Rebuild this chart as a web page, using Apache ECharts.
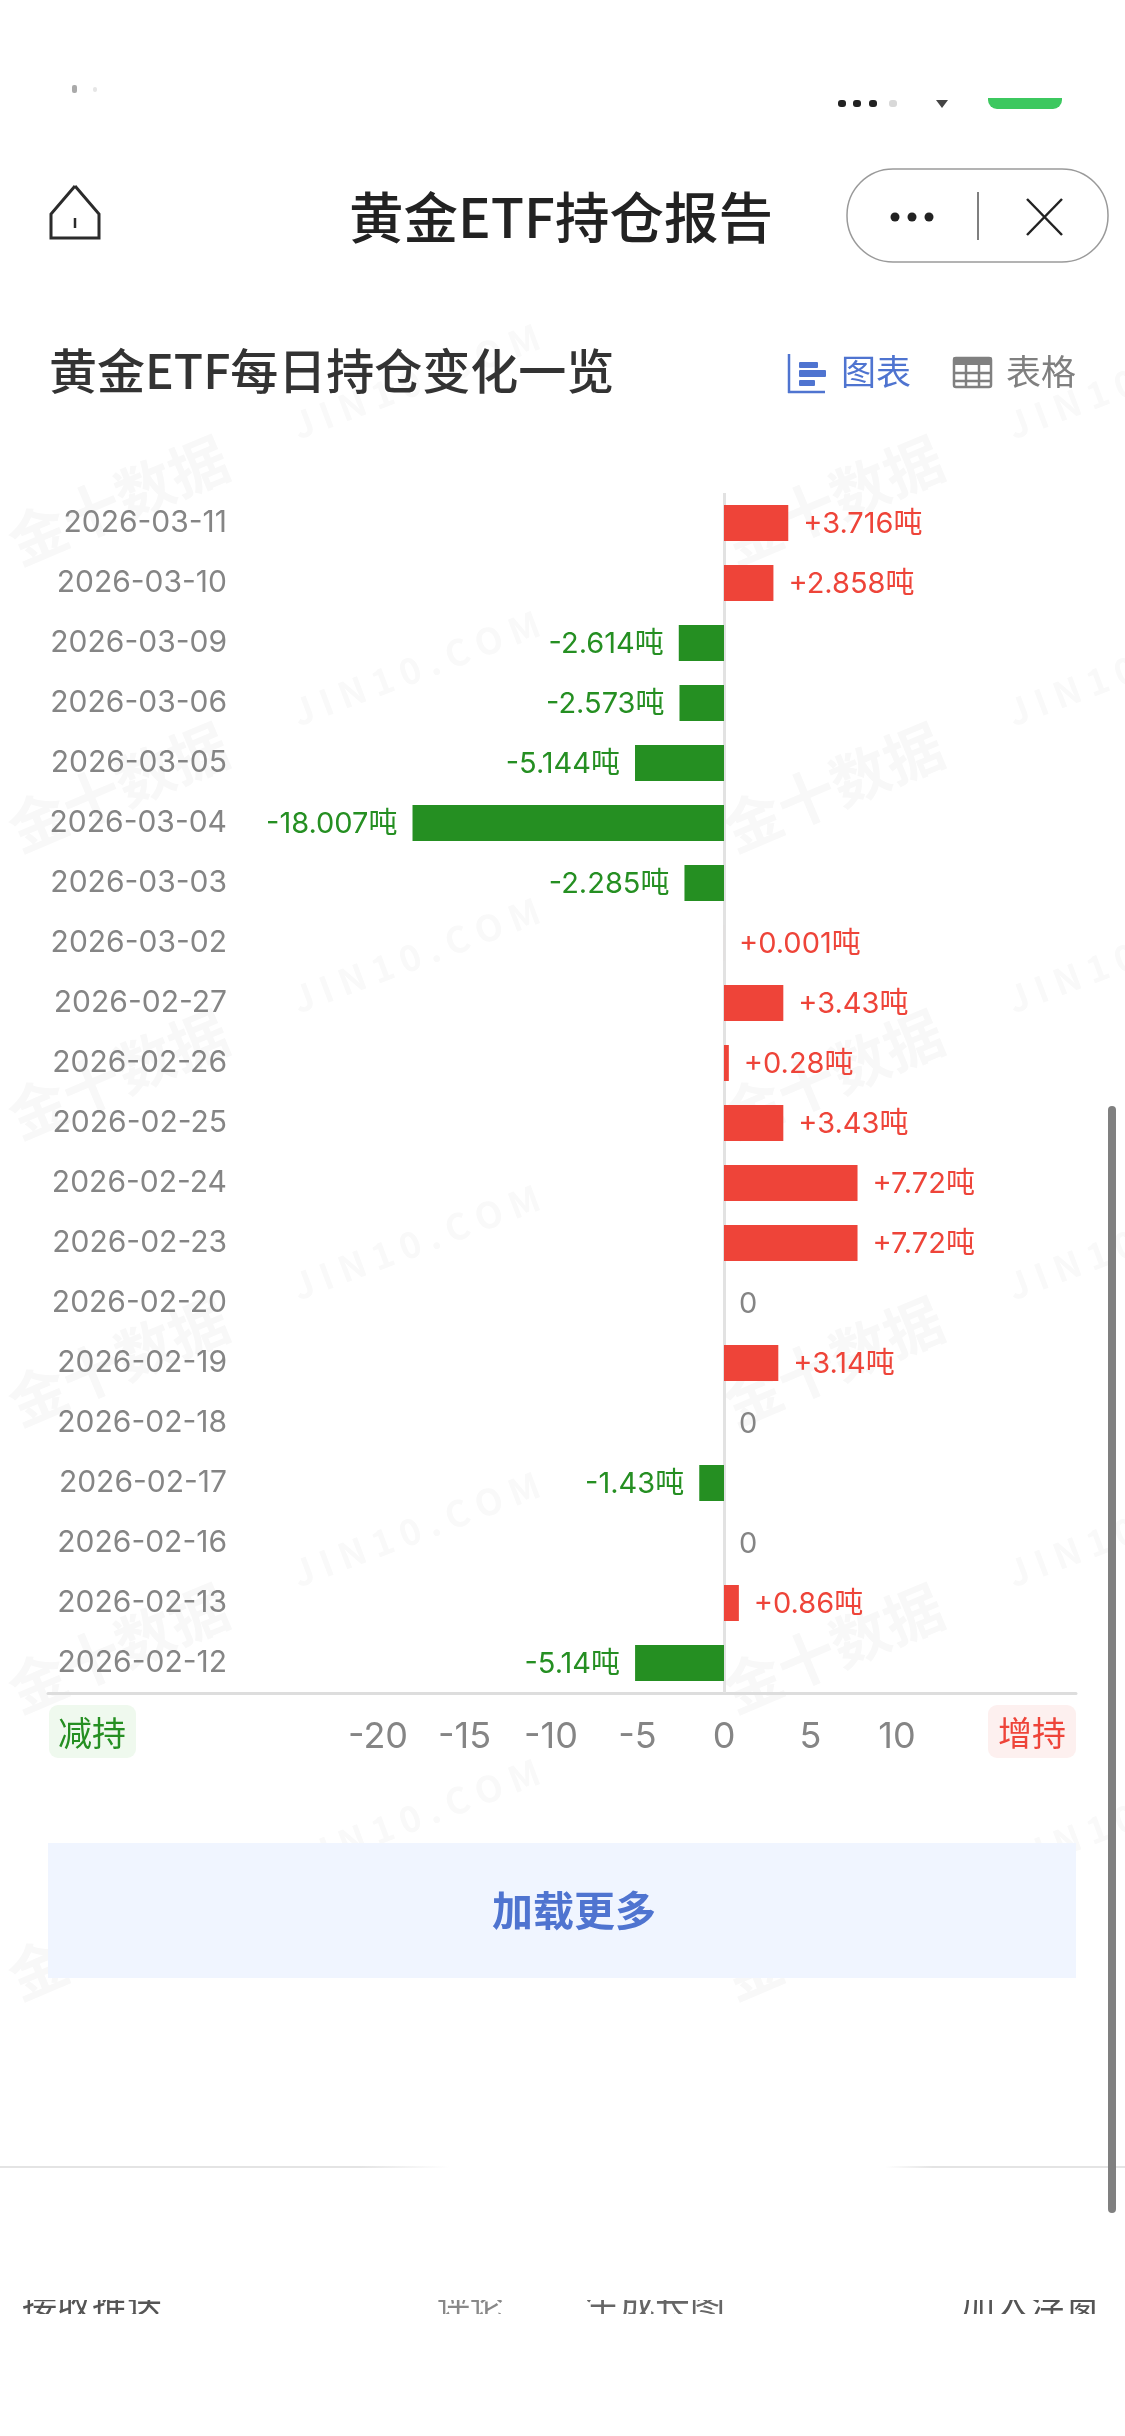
<!DOCTYPE html>
<html><head><meta charset="utf-8">
<style>html,body{margin:0;padding:0;background:#fff}#c{width:1125px;height:2436px}</style>
<script src="https://cdn.jsdelivr.net/npm/echarts@6/dist/echarts.min.js"></script>
</head><body><div id="c"></div>
<script>
const categories = ['2026-03-11','2026-03-10','2026-03-09','2026-03-06','2026-03-05','2026-03-04','2026-03-03','2026-03-02','2026-02-27','2026-02-26','2026-02-25','2026-02-24','2026-02-23','2026-02-20','2026-02-19','2026-02-18','2026-02-17','2026-02-16','2026-02-13','2026-02-12'];
const values = [3.716,2.858,-2.614,-2.573,-5.144,-18.007,-2.285,0.001,3.43,0.28,3.43,7.72,7.72,0,3.14,0,-1.43,0,0.86,-5.14];
const xTicks = [-20,-15,-10,-5,0,5,10];
const RED='#EE4439', GREEN='#258F22', GREY='#858585', BLUE='#4F74D0', DARK='#2B2B2B';
const FONT="Inter,'Noto Sans CJK SC',sans-serif";
const CJK="'Noto Sans CJK SC',sans-serif";

function t(x,y,text,size,fill,align,weight,extra){
  return Object.assign({type:'text',x:x,y:y,z:20,silent:true,style:{text:text,fill:fill,fontSize:size,fontFamily:CJK,fontWeight:weight||400,align:align||'left',verticalAlign:'middle'}},extra||{});
}
function r(x,y,w,h,fill,radius,z){return {type:'rect',z:z||5,silent:true,shape:{x:x,y:y,width:w,height:h,r:radius||0},style:{fill:fill}};}
function ln(x1,y1,x2,y2,c,w,z){return {type:'line',z:z||20,silent:true,shape:{x1:x1,y1:y1,x2:x2,y2:y2},style:{stroke:c,lineWidth:w}};}

const gfx=[];
// watermark
for(let k=0;k<6;k++){
  [118,833].forEach(x=>gfx.push({type:'text',x:x,y:500+287*k,z:0,rotation:0.40,silent:true,style:{text:'金十数据',fill:'#F8F8F8',fontSize:58,fontWeight:700,fontFamily:CJK,align:'center',verticalAlign:'middle'}}));
  [416,1131].forEach(x=>gfx.push({type:'text',x:x,y:381+287*k,z:0,rotation:0.36,silent:true,style:{text:'J I N 1 0 . C O M',fill:'#F9F9F9',fontSize:36,fontWeight:700,fontFamily:CJK,align:'center',verticalAlign:'middle'}}));
}
// status bar fragments
gfx.push(r(72,85,5,8,'#aaaaaa',2,20), r(93,87,4,5,'#e6e6e6',2,20));
[842,857,873].forEach(x=>gfx.push(r(x-4,100,8,7,'#222',3,20)));
gfx.push(r(889,100,8,7,'#d8d8d8',3,20));
gfx.push({type:'polygon',z:20,silent:true,shape:{points:[[936,100],[948,100],[942,108]]},style:{fill:'#444'}});
gfx.push(r(988,98,74,11,'#3CC85F',[0,0,9,9],20));
// header
gfx.push({type:'polyline',z:20,silent:true,shape:{points:[[75,186],[51,214],[51,238],[99,238],[99,214],[75,186]]},style:{stroke:'#2b2b2b',lineWidth:3,fill:'none'}});
gfx.push(ln(75,218,75,228,'#2b2b2b',2.5));
gfx.push(t(561,217,'黄金ETF持仓报告',54.5,'#222','center',500));
gfx.push({type:'rect',z:10,silent:true,shape:{x:847,y:169,width:261,height:93,r:46},style:{fill:'#fff',stroke:'#9a9a9a',lineWidth:1.5}});
[895,912,929].forEach(x=>gfx.push({type:'circle',z:20,silent:true,shape:{cx:x,cy:217,r:4.5},style:{fill:'#222'}}));
gfx.push(ln(978,192,978,240,'#555',1.5));
gfx.push(ln(1027,199,1062,235,'#222',2.5), ln(1062,199,1027,235,'#222',2.5));
// section title
gfx.push(t(49,371,'黄金ETF每日持仓变化一览',48,'#333','left',500));
gfx.push(ln(789,354,789,393,BLUE,2.5), ln(788,392,825,392,BLUE,2.5));
gfx.push(r(799,362,19,6,BLUE,1,20), r(799,370,27,7,BLUE,1,20), r(799,380,16,6,BLUE,1,20));
gfx.push(t(841,372,'图表',35,BLUE,'left',400));
gfx.push(r(953,357,39,8,'#808080',2,20));
gfx.push({type:'rect',z:20,silent:true,shape:{x:954,y:358,width:37,height:29,r:2},style:{fill:'none',stroke:'#808080',lineWidth:2.5}});
gfx.push(ln(966,360,966,387,'#808080',2.5), ln(979,360,979,387,'#808080',2.5), ln(954,373,991,373,'#808080',2.5), ln(954,381,991,381,'#808080',2.5));
gfx.push(t(1006,372,'表格',35,'#808080','left',400));
// legend chips
gfx.push(r(49,1705,87,53,'#EFF9EE',9,5), r(988,1705,88,53,'#FDF0EF',9,5));
gfx.push(t(92,1733,'减持',34,GREEN,'center',400), t(1032,1733,'增持',34,RED,'center',400));
// load more
gfx.push(r(48,1843,1028,135,'#F0F5FF',0,5));
gfx.push(t(574,1910,'加载更多',41,BLUE,'center',600));
// divider with fade
gfx.push({type:'rect',z:5,silent:true,shape:{x:0,y:2166,width:450,height:2},style:{fill:{type:'linear',x:0,y:0,x2:1,y2:0,colorStops:[{offset:0,color:'#e4e4e4'},{offset:0.8,color:'#e4e4e4'},{offset:1,color:'#ffffff'}]}}});
gfx.push({type:'rect',z:5,silent:true,shape:{x:885,y:2166,width:240,height:2},style:{fill:{type:'linear',x:0,y:0,x2:1,y2:0,colorStops:[{offset:0,color:'#ffffff'},{offset:0.2,color:'#e4e4e4'},{offset:1,color:'#e4e4e4'}]}}});
// scrollbar
gfx.push(r(1108,1106,8,1107,'#808080',4,30));
// clipped bottom toolbar strip
gfx.push(t(22,2304,'接收推送',35,'#555','left'), t(437,2304,'评论',33,'#888','left'), t(585,2304,'生成长图',35,'#666','left'), t(960,2304,'加入浮窗',35,'#555','left'));
gfx.push(r(0,2270,1125,30,'#ffffff',0,25), r(0,2314,1125,40,'#ffffff',0,25));

const chart=echarts.init(document.getElementById('c'),null,{renderer:'canvas',width:1125,height:2436});
chart.setOption({
  animation:false, backgroundColor:'#fff',
  grid:{left:48,top:493,width:1028,height:1200,containLabel:false,outerBoundsMode:'none'},
  xAxis:{type:'value',min:-39.08,max:20.35,
    axisLine:{show:true,lineStyle:{color:'#DDDDDD',width:3}},
    axisTick:{show:false},splitLine:{show:false},
    axisLabel:{customValues:xTicks,color:GREY,fontSize:36,fontFamily:FONT,margin:26}},
  yAxis:{type:'category',inverse:true,data:categories,
    axisLine:{show:false,onZero:false},
    axisTick:{show:false},
    axisLabel:{show:true,color:GREY,fontSize:30,fontFamily:FONT,inside:false,margin:-179,align:'right',interval:0}},
  series:[{type:'bar',barWidth:36,z:3,
    data:values.map(v=>({value:v,
      itemStyle:{color:v<0?GREEN:RED},
      label:{position:v<0?'left':'right',color:v===0?GREY:(v<0?GREEN:RED)}})),
    label:{show:true,distance:15,fontSize:29,fontFamily:FONT,offset:[0,1],
      formatter:p=>p.value===0?'0':(p.value>0?'+':'')+p.value+'吨'},
    markLine:{silent:true,z:1,symbol:'none',animation:false,label:{show:false},
      lineStyle:{color:'#E2E2E2',width:3,type:'solid'},data:[{xAxis:0}]}}],
  graphic:{elements:gfx}
});
</script></body></html>
